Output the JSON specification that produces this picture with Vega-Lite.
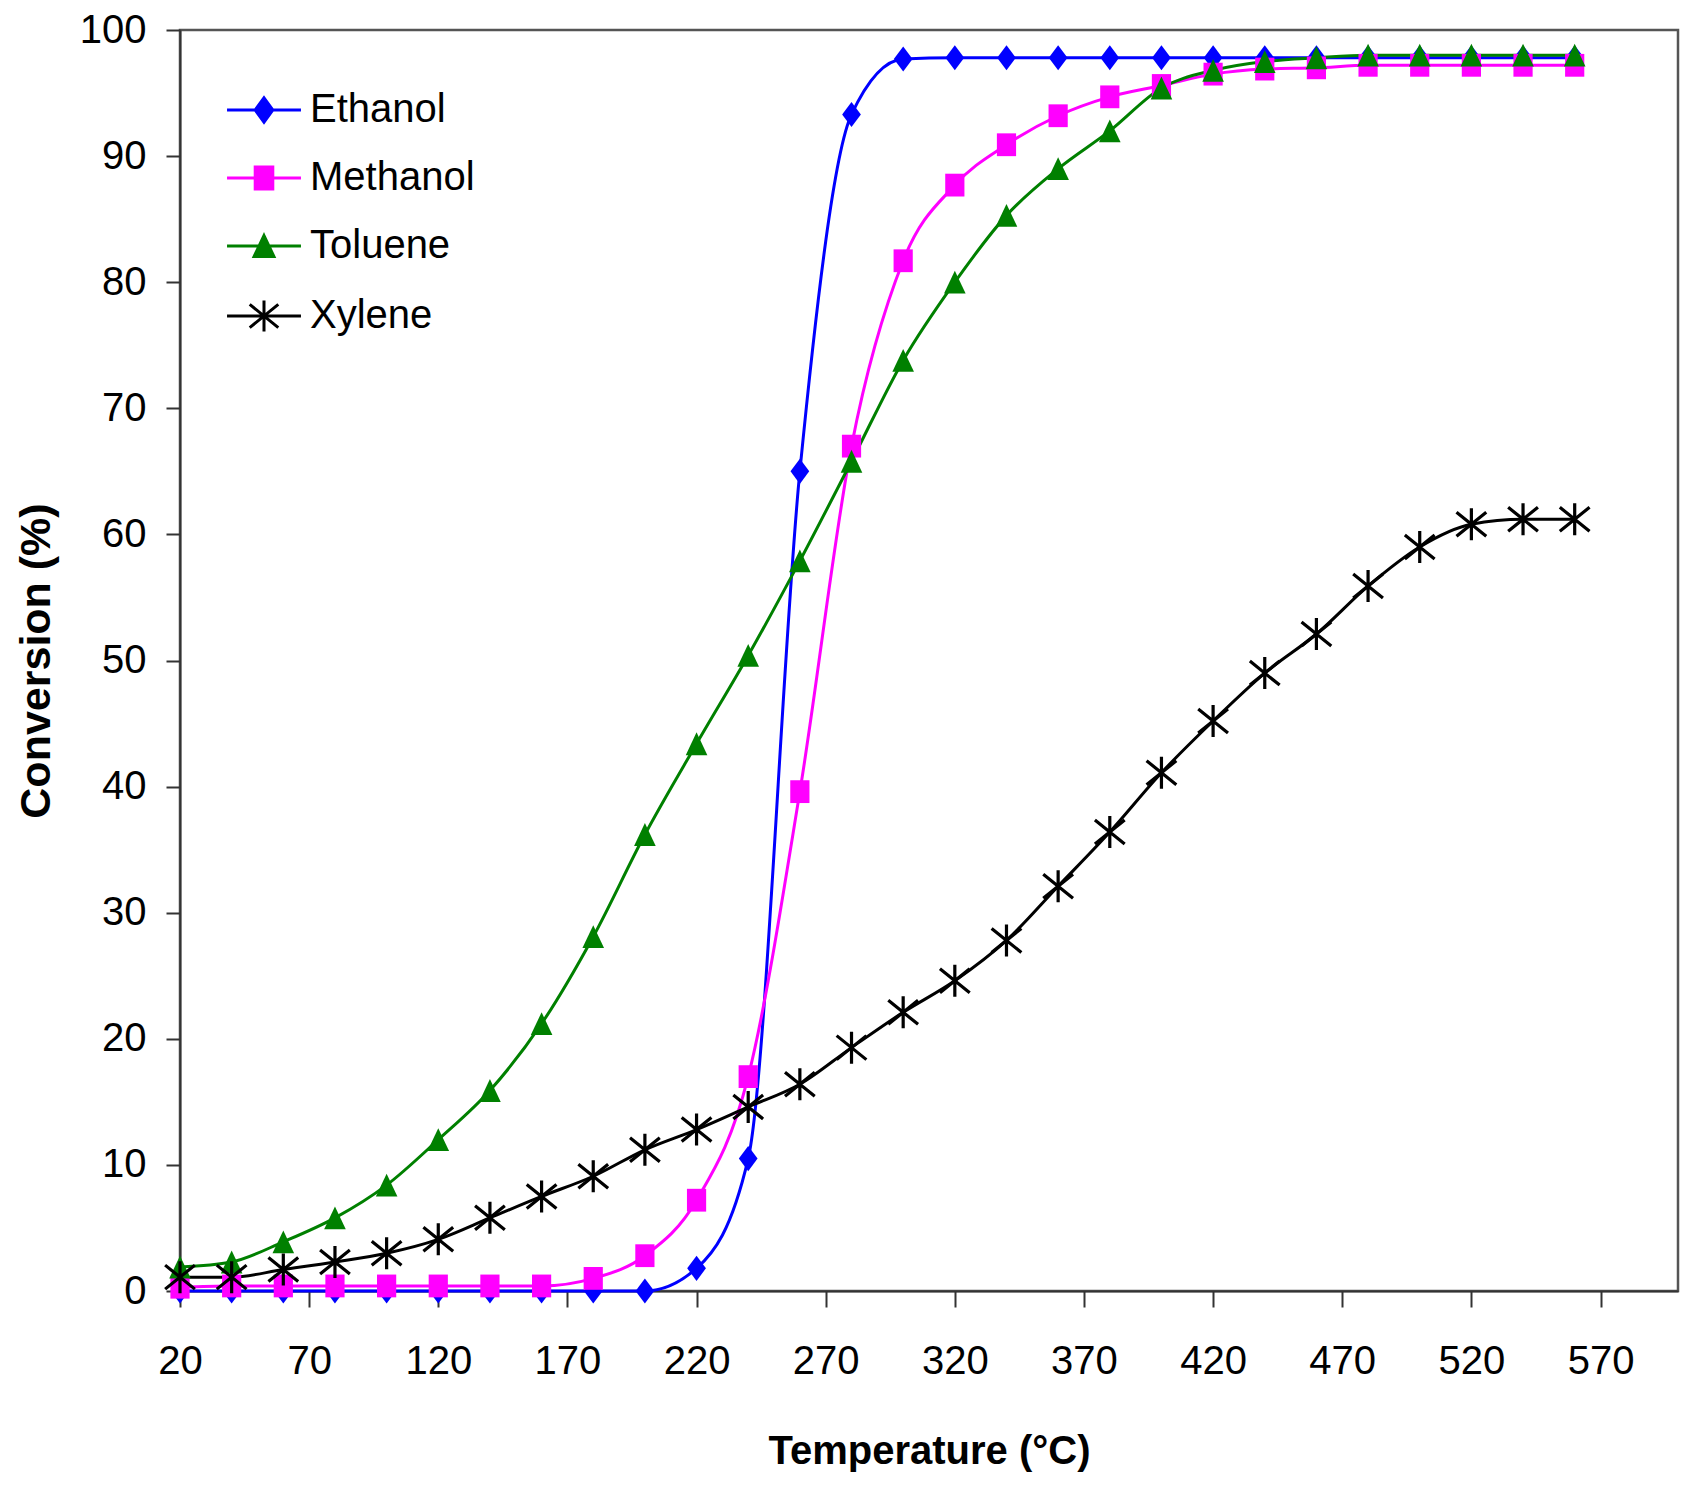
{
  "$schema": "https://vega.github.io/schema/vega-lite/v6.json",
  "width": 1498,
  "height": 1261,
  "autosize": "none",
  "padding": {"left": 180, "top": 30, "right": 19, "bottom": 203},
  "background": "white",
  "config": {
    "font": "Liberation Sans",
    "view": {"stroke": "#555555", "strokeWidth": 2.5},
    "axis": {
      "grid": false,
      "domainColor": "#333333",
      "domainWidth": 2,
      "tickColor": "#333333",
      "tickWidth": 2,
      "labelColor": "black",
      "titleColor": "black",
      "labelFont": "Liberation Sans",
      "titleFont": "Liberation Sans",
      "labelFontSize": 40,
      "titleFontSize": 40,
      "titleFontWeight": "bold"
    }
  },
  "data": {
    "values": [
      {"T": 20, "compound": "Ethanol", "conv": 0},
      {"T": 40, "compound": "Ethanol", "conv": 0},
      {"T": 60, "compound": "Ethanol", "conv": 0},
      {"T": 80, "compound": "Ethanol", "conv": 0},
      {"T": 100, "compound": "Ethanol", "conv": 0},
      {"T": 120, "compound": "Ethanol", "conv": 0},
      {"T": 140, "compound": "Ethanol", "conv": 0},
      {"T": 160, "compound": "Ethanol", "conv": 0},
      {"T": 180, "compound": "Ethanol", "conv": 0},
      {"T": 200, "compound": "Ethanol", "conv": 0},
      {"T": 220, "compound": "Ethanol", "conv": 1.8},
      {"T": 240, "compound": "Ethanol", "conv": 10.5},
      {"T": 260, "compound": "Ethanol", "conv": 65.0},
      {"T": 280, "compound": "Ethanol", "conv": 93.3},
      {"T": 300, "compound": "Ethanol", "conv": 97.7},
      {"T": 320, "compound": "Ethanol", "conv": 97.8},
      {"T": 340, "compound": "Ethanol", "conv": 97.8},
      {"T": 360, "compound": "Ethanol", "conv": 97.8},
      {"T": 380, "compound": "Ethanol", "conv": 97.8},
      {"T": 400, "compound": "Ethanol", "conv": 97.8},
      {"T": 420, "compound": "Ethanol", "conv": 97.8},
      {"T": 440, "compound": "Ethanol", "conv": 97.8},
      {"T": 460, "compound": "Ethanol", "conv": 97.8},
      {"T": 480, "compound": "Ethanol", "conv": 97.8},
      {"T": 500, "compound": "Ethanol", "conv": 97.8},
      {"T": 520, "compound": "Ethanol", "conv": 97.8},
      {"T": 540, "compound": "Ethanol", "conv": 97.8},
      {"T": 560, "compound": "Ethanol", "conv": 97.8},
      {"T": 20, "compound": "Methanol", "conv": 0.3},
      {"T": 40, "compound": "Methanol", "conv": 0.4},
      {"T": 60, "compound": "Methanol", "conv": 0.4},
      {"T": 80, "compound": "Methanol", "conv": 0.4},
      {"T": 100, "compound": "Methanol", "conv": 0.4},
      {"T": 120, "compound": "Methanol", "conv": 0.4},
      {"T": 140, "compound": "Methanol", "conv": 0.4},
      {"T": 160, "compound": "Methanol", "conv": 0.4},
      {"T": 180, "compound": "Methanol", "conv": 1.0},
      {"T": 200, "compound": "Methanol", "conv": 2.8},
      {"T": 220, "compound": "Methanol", "conv": 7.2},
      {"T": 240, "compound": "Methanol", "conv": 17.0},
      {"T": 260, "compound": "Methanol", "conv": 39.6},
      {"T": 280, "compound": "Methanol", "conv": 67.0},
      {"T": 300, "compound": "Methanol", "conv": 81.7},
      {"T": 320, "compound": "Methanol", "conv": 87.7},
      {"T": 340, "compound": "Methanol", "conv": 90.9},
      {"T": 360, "compound": "Methanol", "conv": 93.2},
      {"T": 380, "compound": "Methanol", "conv": 94.7},
      {"T": 400, "compound": "Methanol", "conv": 95.6},
      {"T": 420, "compound": "Methanol", "conv": 96.5},
      {"T": 440, "compound": "Methanol", "conv": 96.9},
      {"T": 460, "compound": "Methanol", "conv": 97.0},
      {"T": 480, "compound": "Methanol", "conv": 97.2},
      {"T": 500, "compound": "Methanol", "conv": 97.2},
      {"T": 520, "compound": "Methanol", "conv": 97.2},
      {"T": 540, "compound": "Methanol", "conv": 97.2},
      {"T": 560, "compound": "Methanol", "conv": 97.2},
      {"T": 20, "compound": "Toluene", "conv": 1.9},
      {"T": 40, "compound": "Toluene", "conv": 2.3},
      {"T": 60, "compound": "Toluene", "conv": 3.9},
      {"T": 80, "compound": "Toluene", "conv": 5.8},
      {"T": 100, "compound": "Toluene", "conv": 8.4},
      {"T": 120, "compound": "Toluene", "conv": 12.0},
      {"T": 140, "compound": "Toluene", "conv": 15.9},
      {"T": 160, "compound": "Toluene", "conv": 21.2},
      {"T": 180, "compound": "Toluene", "conv": 28.1},
      {"T": 200, "compound": "Toluene", "conv": 36.2},
      {"T": 220, "compound": "Toluene", "conv": 43.4},
      {"T": 240, "compound": "Toluene", "conv": 50.4},
      {"T": 260, "compound": "Toluene", "conv": 57.9},
      {"T": 280, "compound": "Toluene", "conv": 65.8},
      {"T": 300, "compound": "Toluene", "conv": 73.8},
      {"T": 320, "compound": "Toluene", "conv": 80.0},
      {"T": 340, "compound": "Toluene", "conv": 85.3},
      {"T": 360, "compound": "Toluene", "conv": 89.0},
      {"T": 380, "compound": "Toluene", "conv": 92.0},
      {"T": 400, "compound": "Toluene", "conv": 95.4},
      {"T": 420, "compound": "Toluene", "conv": 96.8},
      {"T": 440, "compound": "Toluene", "conv": 97.5},
      {"T": 460, "compound": "Toluene", "conv": 97.8},
      {"T": 480, "compound": "Toluene", "conv": 98.0},
      {"T": 500, "compound": "Toluene", "conv": 98.0},
      {"T": 520, "compound": "Toluene", "conv": 98.0},
      {"T": 540, "compound": "Toluene", "conv": 98.0},
      {"T": 560, "compound": "Toluene", "conv": 98.0},
      {"T": 20, "compound": "Xylene", "conv": 1.1},
      {"T": 40, "compound": "Xylene", "conv": 1.1},
      {"T": 60, "compound": "Xylene", "conv": 1.7},
      {"T": 80, "compound": "Xylene", "conv": 2.3},
      {"T": 100, "compound": "Xylene", "conv": 3.0},
      {"T": 120, "compound": "Xylene", "conv": 4.1},
      {"T": 140, "compound": "Xylene", "conv": 5.8},
      {"T": 160, "compound": "Xylene", "conv": 7.5},
      {"T": 180, "compound": "Xylene", "conv": 9.1},
      {"T": 200, "compound": "Xylene", "conv": 11.2},
      {"T": 220, "compound": "Xylene", "conv": 12.8},
      {"T": 240, "compound": "Xylene", "conv": 14.6},
      {"T": 260, "compound": "Xylene", "conv": 16.4},
      {"T": 280, "compound": "Xylene", "conv": 19.3},
      {"T": 300, "compound": "Xylene", "conv": 22.1},
      {"T": 320, "compound": "Xylene", "conv": 24.6},
      {"T": 340, "compound": "Xylene", "conv": 27.8},
      {"T": 360, "compound": "Xylene", "conv": 32.1},
      {"T": 380, "compound": "Xylene", "conv": 36.4},
      {"T": 400, "compound": "Xylene", "conv": 41.1},
      {"T": 420, "compound": "Xylene", "conv": 45.2},
      {"T": 440, "compound": "Xylene", "conv": 49.0},
      {"T": 460, "compound": "Xylene", "conv": 52.1},
      {"T": 480, "compound": "Xylene", "conv": 55.9},
      {"T": 500, "compound": "Xylene", "conv": 59.0},
      {"T": 520, "compound": "Xylene", "conv": 60.8},
      {"T": 540, "compound": "Xylene", "conv": 61.2},
      {"T": 560, "compound": "Xylene", "conv": 61.2}
    ]
  },
  "encoding": {
    "x": {
      "field": "T",
      "type": "quantitative",
      "scale": {"domain": [20, 600], "nice": false, "zero": false},
      "axis": {
        "values": [20, 70, 120, 170, 220, 270, 320, 370, 420, 470, 520, 570],
        "tickSize": 16,
        "labelPadding": 34,
        "labelFlush": false,
        "title": "Temperature (°C)",
        "titleY": 172,
        "titleBaseline": "alphabetic"
      }
    },
    "y": {
      "field": "conv",
      "type": "quantitative",
      "scale": {"domain": [0, 100], "nice": false},
      "axis": {
        "values": [0, 10, 20, 30, 40, 50, 60, 70, 80, 90, 100],
        "tickSize": 14,
        "labelPadding": 20,
        "labelFlush": false,
        "title": "Conversion (%)",
        "titleFontSize": 43,
        "titleX": -131,
        "titleBaseline": "alphabetic"
      }
    },
    "color": {
      "field": "compound",
      "type": "nominal",
      "scale": {
        "domain": ["Ethanol", "Methanol", "Toluene", "Xylene"],
        "range": ["#0000FF", "#FF00FF", "#008000", "#000000"]
      },
      "legend": {
        "title": null,
        "orient": "none",
        "legendX": 64,
        "legendY": 60,
        "padding": 0,
        "labelFont": "Liberation Sans",
        "labelFontSize": 40,
        "labelColor": "black",
        "labelLimit": 400,
        "symbolSize": 484,
        "labelOffset": 26,
        "rowPadding": 28,
        "encode": {
          "symbols": {
            "update": {
              "shape": {"signal": "datum.value === 'Ethanol' ? 'M-3.36,0L3.36,0M0,-1.1L0.8,0L0,1.1L-0.8,0Z' : datum.value === 'Methanol' ? 'M-3.36,0L3.36,0M-0.8,-1H0.8V1H-0.8Z' : datum.value === 'Toluene' ? 'M-3.36,0L3.36,0M0,-0.95L0.9,0.95L-0.9,0.95Z' : 'M-3.36,0L3.36,0M0,-1.4L0,1.4M-1.3,-1.05L1.3,1.05M-1.3,1.05L1.3,-1.05'"},
              "fill": {"signal": "datum.value === 'Xylene' ? 'transparent' : datum.value === 'Ethanol' ? '#0000FF' : datum.value === 'Methanol' ? '#FF00FF' : '#008000'"},
              "stroke": {"signal": "datum.value === 'Xylene' ? '#000000' : datum.value === 'Ethanol' ? '#0000FF' : datum.value === 'Methanol' ? '#FF00FF' : '#008000'"},
              "strokeWidth": {"value": 3},
              "opacity": {"value": 1}
            }
          }
        }
      }
    }
  },
  "layer": [
    {
      "mark": {"type": "line", "interpolate": "monotone", "strokeWidth": 3}
    },
    {
      "transform": [{"filter": "datum.compound !== 'Xylene'"}],
      "mark": {"type": "point", "filled": true, "opacity": 1, "size": 576},
      "encoding": {
        "shape": {
          "field": "compound",
          "type": "nominal",
          "scale": {
            "domain": ["Ethanol", "Methanol", "Toluene"],
            "range": ["M0,-1.05L0.78,0L0,1.05L-0.78,0Z", "M-0.8,-0.95H0.8V0.95H-0.8Z", "M0,-0.95L0.9,0.95L-0.9,0.95Z"]
          },
          "legend": null
        }
      }
    },
    {
      "transform": [{"filter": "datum.compound === 'Xylene'"}],
      "mark": {
        "type": "point",
        "filled": false,
        "opacity": 1,
        "size": 1024,
        "strokeWidth": 3.2,
        "shape": "M0,-1L0,1M-0.93,-0.75L0.93,0.75M-0.93,0.75L0.93,-0.75"
      }
    }
  ]
}
